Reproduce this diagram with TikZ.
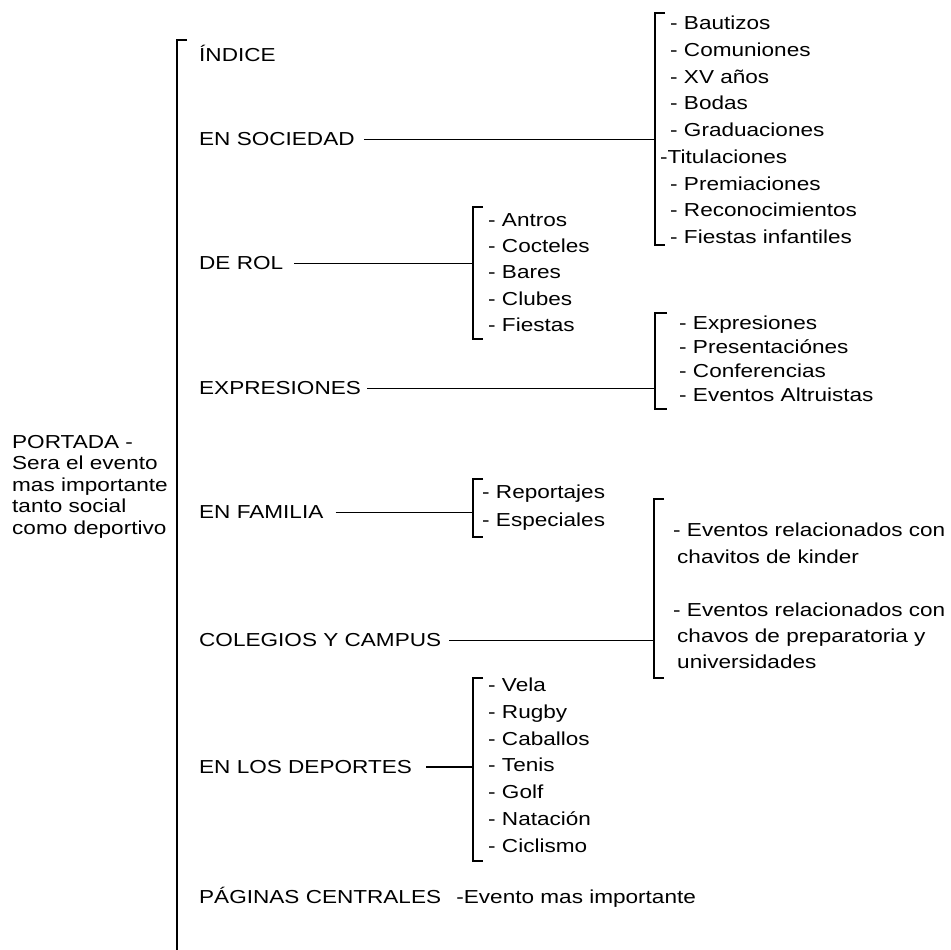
\documentclass[tikz,border=0pt]{standalone}
\usepackage{fontspec}
\setmainfont{Liberation Sans}[FakeStretch=1.2]
\tikzset{
  corchete/.style={line width=1.6pt},
  enlace/.style={line width=0.9pt},
  seccion/.style={anchor=west, inner sep=0pt, text height=13.5pt, text depth=0pt},
  lista/.style={anchor=north west, inner sep=0pt, align=left},
}
\begin{document}
\begin{tikzpicture}[x=1pt,y=-1pt,font=\fontsize{18.8}{21.5}\selectfont]
    \useasboundingbox (0,0) rectangle (951,950);
    %portada
    \node[lista] (portada) at (12,435) {PORTADA -\\Sera el evento\\mas importante\\tanto social\\como deportivo};
    %corchete principal
    \coordinate (cprin) at (177,40);
    \draw[corchete] ([xshift=10pt]cprin) -- (cprin) -- ++(0,912);
    %secciones
    \node[seccion] (indice) at (199,55) {ÍNDICE};
    \node[seccion] (soc) at (199,139) {EN SOCIEDAD};
    \node[seccion] (rol) at (199,263) {DE ROL};
    \node[seccion] (expr) at (199,388) {EXPRESIONES};
    \node[seccion] (fam) at (199,512) {EN FAMILIA};
    \node[seccion] (col) at (199,640) {COLEGIOS Y CAMPUS};
    \node[seccion] (dep) at (199,767) {EN LOS DEPORTES};
    \node[seccion] (pag) at (199,897) {PÁGINAS CENTRALES\hspace{9pt} -Evento mas importante};
    %en sociedad
    \coordinate (csoc) at (655,13);
    \draw[corchete] ([xshift=10pt]csoc) -- (csoc) -- ++(0,232) -- ++(10,0);
    \draw[enlace, shorten <=9pt] (soc.east) -- (soc.east -| csoc);
    \node[lista, font=\fontsize{18.8}{26.7}\selectfont] (lsoc) at (670,16)
        {- Bautizos\\- Comuniones\\- XV años\\- Bodas\\- Graduaciones\\\hspace*{-10pt}-Titulaciones\\- Premiaciones\\- Reconocimientos\\- Fiestas infantiles};
    %de rol
    \coordinate (crol) at (473,207);
    \draw[corchete] ([xshift=10pt]crol) -- (crol) -- ++(0,132) -- ++(10,0);
    \draw[enlace, shorten <=11pt] (rol.east) -- (rol.east -| crol);
    \node[lista, font=\fontsize{18.8}{26.3}\selectfont] (lrol) at (488,213)
        {- Antros\\- Cocteles\\- Bares\\- Clubes\\- Fiestas};
    %expresiones
    \coordinate (cexpr) at (655,313);
    \draw[corchete] ([xshift=12pt]cexpr) -- (cexpr) -- ++(0,96) -- ++(12,0);
    \draw[enlace, shorten <=6pt] (expr.east) -- (expr.east -| cexpr);
    \node[lista, font=\fontsize{18.8}{24}\selectfont] (lexpr) at (679,316)
        {- Expresiones\\- Presentaciónes\\- Conferencias\\- Eventos Altruistas};
    %en familia
    \coordinate (cfam) at (473,479);
    \draw[corchete] ([xshift=10pt]cfam) -- (cfam) -- ++(0,58) -- ++(10,0);
    \draw[enlace, shorten <=12pt] (fam.east) -- (fam.east -| cfam);
    \node[lista, font=\fontsize{18.8}{28}\selectfont] (lfam) at (482,485)
        {- Reportajes\\- Especiales};
    %colegios y campus
    \coordinate (ccol) at (654,499);
    \draw[corchete] ([xshift=10pt]ccol) -- (ccol) -- ++(0,179) -- ++(10,0);
    \draw[enlace, shorten <=8pt] (col.east) -- (col.east -| ccol);
    \node[lista, font=\fontsize{18.8}{26.4}\selectfont] (lcol) at (673,523)
        {- Eventos relacionados con\\\hspace*{4pt}chavitos de kinder\\[26.4pt]- Eventos relacionados con\\\hspace*{4pt}chavos de preparatoria y\\\hspace*{4pt}universidades};
    %en los deportes
    \coordinate (cdep) at (473,678);
    \draw[corchete] ([xshift=10pt]cdep) -- (cdep) -- ++(0,183) -- ++(10,0);
    \draw[enlace, line width=1.5pt, shorten <=14pt] (dep.east) -- (dep.east -| cdep);
    \node[lista, font=\fontsize{18.8}{26.7}\selectfont] (ldep) at (488,678)
        {- Vela\\- Rugby\\- Caballos\\- Tenis\\- Golf\\- Natación\\- Ciclismo};
\end{tikzpicture}
\end{document}
